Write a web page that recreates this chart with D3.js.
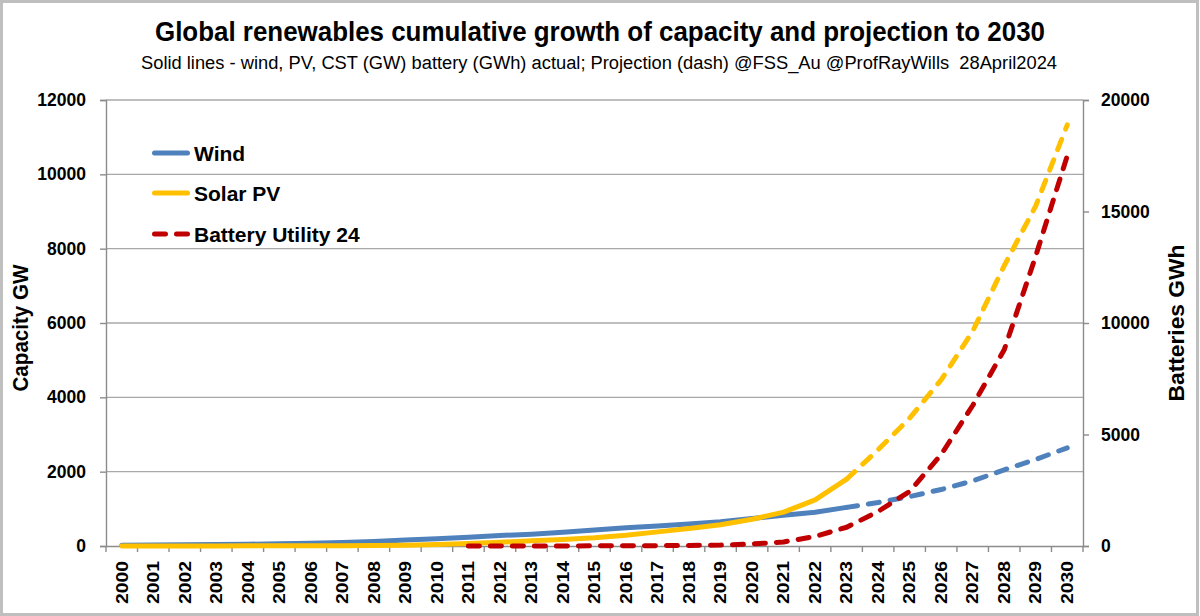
<!DOCTYPE html>
<html>
<head>
<meta charset="utf-8">
<script src="https://cdn.jsdelivr.net/npm/d3@7"></script>
<style>
  html, body { margin: 0; padding: 0; background: #fff; }
  svg { display: block; }
  text { font-family: "Liberation Sans", Arial, sans-serif; fill: #000; }
</style>
</head>
<body>
<div id="chart"></div>
<script>
// ---------------- data ----------------
const years = d3.range(2000, 2031);
const projectionStart = 2023;
const windGW = [17, 24, 31, 39, 48, 59, 74, 94, 121, 159, 198, 238, 283, 319, 370, 433, 488, 540, 591, 651,
                740, 830, 910, 1040, 1170, 1330, 1520, 1750, 2050, 2330, 2640];
const solarGW = [1, 2, 2, 3, 4, 5, 7, 9, 16, 23, 40, 70, 100, 138, 177, 220, 290, 380, 470, 570,
                 720, 910, 1240, 1800, 2590, 3440, 4470, 5780, 7540, 9150, 11330];
const batteryYears = d3.range(2011, 2031);
const batteryGWh = [1, 2, 3, 4, 6, 10, 15, 25, 40, 90, 180, 430, 840, 1550, 2450, 4100, 6300, 8800, 13000, 17500];
const leftTicks = [0, 2000, 4000, 6000, 8000, 10000, 12000];
const rightTicks = [0, 5000, 10000, 15000, 20000];
const legendItems = ["Wind", "Solar PV", "Battery Utility 24"];
const titleText = "Global renewables cumulative growth of capacity and projection to 2030";
const subtitleText = "Solid lines - wind, PV, CST (GW) battery (GWh) actual; Projection (dash) @FSS_Au @ProfRayWills  28April2024";

// ---------------- layout ----------------
const W = 1200, H = 616;
const plot = { left: 106, right: 1083, top: 100, bottom: 546 };
const colors = { wind: "#4F81BD", solar: "#FFC000", battery: "#C00000" };
const axisGrey = "#8C8C8C", gridGrey = "#A8A8A8";
const dash = "11,11";

const svg = d3.select("#chart").append("svg").attr("width", W).attr("height", H);

// outer frame
svg.append("rect").attr("x", 1.5).attr("y", 1.5).attr("width", W - 4).attr("height", H - 3)
  .attr("fill", "#fff").attr("stroke", "#BFBFBF").attr("stroke-width", 3);

// scales
const x = d3.scaleBand().domain(years).range([plot.left, plot.right]).paddingInner(0).paddingOuter(0);
const cx = yr => x(yr) + x.bandwidth() / 2;
const yL = d3.scaleLinear().domain([0, 12000]).range([plot.bottom, plot.top]);
const yR = d3.scaleLinear().domain([0, 20000]).range([plot.bottom, plot.top]);

// gridlines
svg.append("g").selectAll("line").data(leftTicks.filter(d => d > 0)).join("line")
  .attr("x1", plot.left).attr("x2", plot.right)
  .attr("y1", d => yL(d)).attr("y2", d => yL(d))
  .attr("stroke", gridGrey).attr("stroke-width", 1.4);

// left axis
const gL = svg.append("g").attr("transform", `translate(${plot.left},0)`)
  .call(d3.axisLeft(yL).tickValues(leftTicks).tickSize(6).tickPadding(14).tickFormat(d3.format("d")));
gL.select(".domain").attr("stroke", axisGrey).attr("stroke-width", 1.4);
gL.selectAll(".tick line").attr("stroke", axisGrey).attr("stroke-width", 1.4);
gL.selectAll(".tick text").style("font-size", "17.5px").style("font-weight", "bold")
  .style("font-family", "'Liberation Sans', Arial, sans-serif").attr("fill", "#000");

// right axis
const gR = svg.append("g").attr("transform", `translate(${plot.right},0)`)
  .call(d3.axisRight(yR).tickValues(rightTicks).tickSize(6).tickPadding(12).tickFormat(d3.format("d")));
gR.select(".domain").attr("stroke", axisGrey).attr("stroke-width", 1.4);
gR.selectAll(".tick line").attr("stroke", axisGrey).attr("stroke-width", 1.4);
gR.selectAll(".tick text").style("font-size", "17.5px").style("font-weight", "bold")
  .style("font-family", "'Liberation Sans', Arial, sans-serif").attr("fill", "#000");

// bottom axis
const gX = svg.append("g").attr("transform", `translate(0,${plot.bottom})`)
  .call(d3.axisBottom(x).tickSize(0).tickPadding(0));
gX.select(".domain").attr("stroke", axisGrey).attr("stroke-width", 1.4);
gX.selectAll(".tick text")
  .attr("transform", "translate(0,15) rotate(-90)")
  .attr("text-anchor", "end").attr("dy", "0.36em").attr("y", 0).attr("x", 0)
  .style("font-size", "16px").style("font-weight", "bold")
  .style("font-family", "'Liberation Sans', Arial, sans-serif").attr("fill", "#000")
  .attr("textLength", 43).attr("lengthAdjust", "spacingAndGlyphs");
// tick marks between categories (Excel style)
svg.append("g").selectAll("line").data(d3.range(0, years.length + 1)).join("line")
  .attr("x1", i => plot.left + i * x.step()).attr("x2", i => plot.left + i * x.step())
  .attr("y1", plot.bottom).attr("y2", plot.bottom + 6)
  .attr("stroke", axisGrey).attr("stroke-width", 1.4);

// lines
const lineL = d3.line().x(d => cx(d.year)).y(d => yL(d.v));
const lineR = d3.line().x(d => cx(d.year)).y(d => yR(d.v));
const windData = years.map((yr, i) => ({ year: yr, v: windGW[i] }));
const solarData = years.map((yr, i) => ({ year: yr, v: solarGW[i] }));
const batteryData = batteryYears.map((yr, i) => ({ year: yr, v: batteryGWh[i] }));

function drawSeries(data, color, lineGen) {
  const actual = data.filter(d => d.year <= projectionStart);
  const proj = data.filter(d => d.year >= projectionStart);
  svg.append("path").attr("d", lineGen(actual)).attr("fill", "none")
    .attr("stroke", color).attr("stroke-width", 5).attr("stroke-linejoin", "round").attr("stroke-linecap", "round");
  svg.append("path").attr("d", lineGen(proj)).attr("fill", "none")
    .attr("stroke", color).attr("stroke-width", 5).attr("stroke-dasharray", dash)
    .attr("stroke-linejoin", "round").attr("stroke-linecap", "round");
}
drawSeries(windData, colors.wind, lineL);
drawSeries(solarData, colors.solar, lineL);
svg.append("path").attr("d", lineR(batteryData)).attr("fill", "none")
  .attr("stroke", colors.battery).attr("stroke-width", 5).attr("stroke-dasharray", dash)
  .attr("stroke-linejoin", "round").attr("stroke-linecap", "round");

// legend
const legendY = [153, 193, 234];
const legendColors = [colors.wind, colors.solar, colors.battery];
legendItems.forEach((name, i) => {
  const l = svg.append("line").attr("x1", 154.5).attr("x2", 187.5)
    .attr("y1", legendY[i]).attr("y2", legendY[i])
    .attr("stroke", legendColors[i]).attr("stroke-width", 5).attr("stroke-linecap", "round");
  if (i === 2) l.attr("stroke-dasharray", dash);
  svg.append("text").attr("x", 194).attr("y", legendY[i]).attr("dy", "0.36em")
    .style("font-size", "21px").style("font-weight", "bold").text(name);
});

// titles
svg.append("text").attr("x", 600).attr("y", 41).attr("text-anchor", "middle")
  .style("font-size", "27px").style("font-weight", "bold")
  .attr("textLength", 890).attr("lengthAdjust", "spacingAndGlyphs").text(titleText);
svg.append("text").attr("x", 599).attr("y", 69).attr("text-anchor", "middle")
  .style("font-size", "18px").style("white-space", "pre").attr("xml:space", "preserve")
  .attr("textLength", 916).attr("lengthAdjust", "spacingAndGlyphs").text(subtitleText);

// axis titles
svg.append("text").attr("transform", "translate(20,328) rotate(-90)")
  .attr("text-anchor", "middle").attr("dy", "0.36em")
  .style("font-size", "22px").style("font-weight", "bold")
  .attr("textLength", 127).attr("lengthAdjust", "spacingAndGlyphs").text("Capacity GW");
svg.append("text").attr("transform", "translate(1176,323) rotate(-90)")
  .attr("text-anchor", "middle").attr("dy", "0.36em")
  .style("font-size", "22px").style("font-weight", "bold")
  .attr("textLength", 157).attr("lengthAdjust", "spacingAndGlyphs").text("Batteries GWh");
</script>
</body>
</html>
